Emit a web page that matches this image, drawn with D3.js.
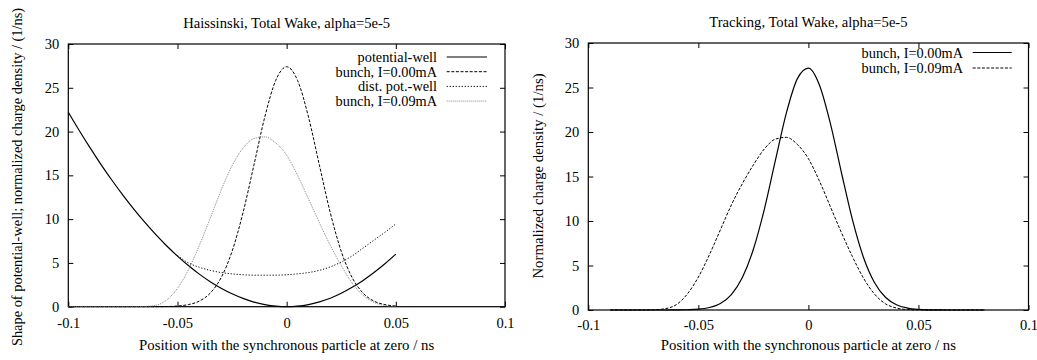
<!DOCTYPE html>
<html>
<head>
<meta charset="utf-8">
<script src="https://cdn.jsdelivr.net/npm/d3@7"></script>
<style>
  html, body { margin: 0; padding: 0; background: #fff; }
  svg { display: block; }
</style>
</head>
<body>
<svg id="chart" width="1037" height="360"></svg>
<script>
// ---------- shared axis ticks ----------
const xTicks = [-0.1, -0.05, 0, 0.05, 0.1];
const xTickLabels = ["-0.1", "-0.05", "0", "0.05", "0.1"];
const yTicks = [0, 5, 10, 15, 20, 25, 30];
const yTickLabels = ["0", "5", "10", "15", "20", "25", "30"];

// ---------- left panel (Haissinski) ----------
const leftTitle = "Haissinski, Total Wake, alpha=5e-5";
const leftYLabel = "Shape of potential-well; normalized charge density / (1/ns)";
const xLabel = "Position with the synchronous particle at zero / ns";
const leftSeriesNames = ["potential-well", "bunch, I=0.00mA", "dist. pot.-well", "bunch, I=0.09mA"];

const leftX = [-0.1, -0.095, -0.09, -0.085, -0.08, -0.075, -0.07, -0.065, -0.06, -0.055,
  -0.05, -0.045, -0.04, -0.035, -0.03, -0.025, -0.02, -0.015, -0.01, -0.005,
  0, 0.005, 0.01, 0.015, 0.02, 0.025, 0.03, 0.035, 0.04, 0.045, 0.05];
const potWell = [22.2, 20.12, 18.13, 16.23, 14.44, 12.74, 11.14, 9.65, 8.25, 6.96,
  5.78, 4.70, 3.72, 2.86, 2.11, 1.47, 0.95, 0.53, 0.24, 0.06,
  0, 0.06, 0.24, 0.55, 0.97, 1.53, 2.21, 3.0, 3.9, 4.9, 6.0];
const bunch0Left = [0, 0, 0, 0, 0, 0, 0, 0, 0.006, 0.02,
  0.08, 0.24, 0.64, 1.55, 3.32, 6.32, 10.72, 16.16, 21.67, 25.84,
  27.4, 25.84, 21.67, 16.16, 10.72, 6.32, 3.32, 1.55, 0.64, 0.24, 0.08];
const bunch9Left = [0, 0, 0, 0, 0, 0, 0, 0.03, 0.15, 0.75,
  2.1, 4.2, 7.0, 10.1, 13.3, 16.1, 18.1, 19.2, 19.4, 18.7,
  17.3, 15.0, 12.3, 9.6, 7.0, 4.7, 2.7, 1.3, 0.5, 0.14, 0.02];
const distX = [-0.05, -0.045, -0.04, -0.035, -0.03, -0.025, -0.02, -0.015, -0.01, -0.005,
  0, 0.005, 0.01, 0.015, 0.02, 0.025, 0.03, 0.035, 0.04, 0.045, 0.05];
const distWell = [5.85, 5.0, 4.5, 4.15, 3.9, 3.75, 3.65, 3.6, 3.6, 3.6,
  3.65, 3.75, 3.9, 4.15, 4.55, 5.1, 5.8, 6.7, 7.6, 8.5, 9.45];

// ---------- right panel (Tracking) ----------
const rightTitle = "Tracking, Total Wake, alpha=5e-5";
const rightYLabel = "Normalized charge density / (1/ns)";
const rightSeriesNames = ["bunch, I=0.00mA", "bunch, I=0.09mA"];
const rightX = [-0.09, -0.085, -0.08, -0.075, -0.07, -0.065, -0.06, -0.055, -0.05, -0.045,
  -0.04, -0.035, -0.03, -0.025, -0.02, -0.015, -0.01, -0.005, 0, 0.005,
  0.01, 0.015, 0.02, 0.025, 0.03, 0.035, 0.04, 0.045, 0.05, 0.055,
  0.06, 0.065, 0.07, 0.075, 0.08];
const bunch0Right = [0, 0, 0, 0, 0, 0, 0.008, 0.03, 0.09, 0.28,
  0.74, 1.74, 3.65, 6.82, 11.34, 16.8, 22.15, 26.0, 27.18, 25.29,
  20.95, 15.45, 10.15, 5.93, 3.09, 1.43, 0.59, 0.22, 0.07, 0.02,
  0.005, 0, 0, 0, 0];
const bunch9Right = [0, 0, 0, 0, 0.03, 0.15, 0.6, 1.8, 3.7, 6.2,
  9.0, 11.8, 14.2, 16.3, 18.1, 19.2, 19.4, 18.6, 17.0, 14.5,
  11.6, 8.7, 6.0, 3.6, 1.8, 0.7, 0.22, 0.05, 0.01, 0,
  0, 0, 0, 0, 0];

// ---------- drawing ----------
const FONT = "'Liberation Serif', 'Times New Roman', Times, serif";
const svg = d3.select("#chart");

const styles = {
  solid:  { stroke: "#000", width: 1.2, dash: null },
  dashed: { stroke: "#000", width: 1.0, dash: "3,1.6" },
  dotted: { stroke: "#000", width: 1.0, dash: "1.2,1.8" },
  fine:   { stroke: "#777", width: 0.9, dash: "1,1" }
};

function styleText(sel, size) {
  return sel.attr("font-family", FONT).attr("font-size", size).attr("fill", "#000")
    .style("font-family", FONT).style("font-size", size + "px");
}

function panel(cfg) {
  const g = svg.append("g");
  const x = d3.scaleLinear().domain([-0.1, 0.1]).range([cfg.left, cfg.right]);
  const y = d3.scaleLinear().domain([0, 30]).range([cfg.bottom, cfg.top]);

  const fmtX = (d, i) => xTickLabels[i];
  const fmtY = (d, i) => yTickLabels[i];
  const ax = [
    g.append("g").attr("transform", `translate(0,${cfg.bottom})`)
      .call(d3.axisBottom(x).tickValues(xTicks).tickFormat(fmtX).tickSize(-5).tickPadding(cfg.xPad)),
    g.append("g").attr("transform", `translate(0,${cfg.top})`)
      .call(d3.axisTop(x).tickValues(xTicks).tickFormat("").tickSize(-5)),
    g.append("g").attr("transform", `translate(${cfg.left},0)`)
      .call(d3.axisLeft(y).tickValues(yTicks).tickFormat(fmtY).tickSize(-5).tickPadding(9)),
    g.append("g").attr("transform", `translate(${cfg.right},0)`)
      .call(d3.axisRight(y).tickValues(yTicks).tickFormat("").tickSize(-5))
  ];
  ax.forEach(a => {
    a.select(".domain").remove();
    a.attr("font-family", FONT).attr("font-size", 14.5);
    a.selectAll(".tick line").attr("stroke", "#000").attr("stroke-width", 1);
    styleText(a.selectAll(".tick text"), 14.5);
  });

  g.append("rect")
    .attr("x", cfg.left).attr("y", cfg.top)
    .attr("width", cfg.right - cfg.left).attr("height", cfg.bottom - cfg.top)
    .attr("fill", "none").attr("stroke", "#000").attr("stroke-width", 1.2);

  const line = d3.line().x(d => x(d[0])).y(d => y(d[1])).curve(d3.curveMonotoneX);

  cfg.series.forEach((s, i) => {
    const st = styles[s.style];
    const pts = s.xs.map((xv, k) => [xv, s.ys[k]]);
    g.append("path").attr("d", line(pts))
      .attr("fill", "none").attr("stroke", st.stroke).attr("stroke-width", st.width)
      .attr("stroke-dasharray", st.dash);
    const ly = cfg.legendY + i * cfg.legendDy;
    styleText(g.append("text").attr("x", cfg.legendTextX).attr("y", ly)
      .attr("text-anchor", "end").attr("dominant-baseline", "central").text(s.name), 14.3);
    g.append("line").attr("x1", cfg.legendLine[0]).attr("x2", cfg.legendLine[1])
      .attr("y1", ly).attr("y2", ly)
      .attr("stroke", st.stroke).attr("stroke-width", st.width).attr("stroke-dasharray", st.dash);
  });

  const cx = (cfg.left + cfg.right) / 2;
  styleText(g.append("text").attr("x", cx).attr("y", cfg.titleY).attr("text-anchor", "middle")
    .attr("dominant-baseline", "central").text(cfg.title), 14.6);
  styleText(g.append("text").attr("x", cx).attr("y", 345).attr("text-anchor", "middle")
    .attr("dominant-baseline", "central").text(xLabel), 14.8);
  styleText(g.append("text").attr("transform", `translate(${cfg.yLabelX},${cfg.yLabelY}) rotate(-90)`)
    .attr("text-anchor", "middle").attr("dominant-baseline", "central").text(cfg.yLabel), cfg.yLabelSize);
}

panel({
  left: 68.3, right: 505, top: 44, bottom: 306.7, xPad: 11,
  title: leftTitle, titleY: 22.5, yLabel: leftYLabel, yLabelX: 17, yLabelY: 177, yLabelSize: 14.4,
  legendY: 57, legendDy: 14.7, legendTextX: 437, legendLine: [446.7, 487],
  series: [
    { name: leftSeriesNames[0], xs: leftX, ys: potWell, style: "solid" },
    { name: leftSeriesNames[1], xs: leftX, ys: bunch0Left, style: "dashed" },
    { name: leftSeriesNames[2], xs: distX, ys: distWell, style: "dotted" },
    { name: leftSeriesNames[3], xs: leftX, ys: bunch9Left, style: "fine" }
  ]
});

panel({
  left: 588.3, right: 1028.5, top: 43, bottom: 310, xPad: 10,
  title: rightTitle, titleY: 21.7, yLabel: rightYLabel, yLabelX: 538, yLabelY: 176, yLabelSize: 14.8,
  legendY: 52.5, legendDy: 15.5, legendTextX: 963, legendLine: [972.7, 1011.7],
  series: [
    { name: rightSeriesNames[0], xs: rightX, ys: bunch0Right, style: "solid" },
    { name: rightSeriesNames[1], xs: rightX, ys: bunch9Right, style: "dashed" }
  ]
});
</script>
</body>
</html>
